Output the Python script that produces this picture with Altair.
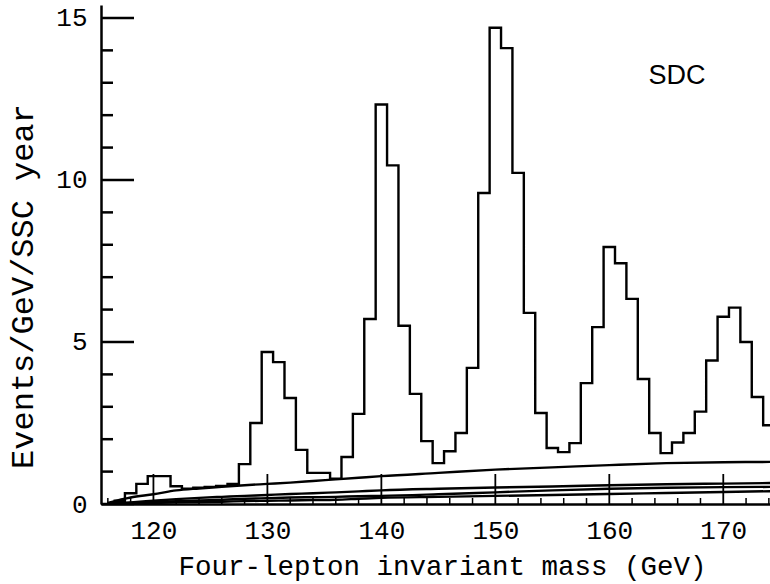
import altair as alt
import pandas as pd

# ---- data ----
bin_center = list(range(117, 175))
events = [0.10, 0.33, 0.62, 0.86, 0.86, 0.55, 0.47, 0.50, 0.53, 0.56,
          0.62, 1.23, 2.50, 4.69, 4.38, 3.27, 1.67, 0.96, 0.96, 0.78,
          1.45, 2.78, 5.71, 12.33, 10.45, 5.50, 3.40, 1.94, 1.26, 1.63,
          2.19, 4.20, 9.60, 14.70, 14.07, 10.22, 5.90, 2.81, 1.73, 1.60,
          1.88, 3.73, 5.46, 7.93, 7.43, 6.33, 3.86, 2.19, 1.57, 1.90,
          2.19, 2.85, 4.43, 5.78, 6.06, 5.00, 3.30, 2.43]

curve_mass = [116, 118, 120, 122, 124, 126, 128, 130, 132, 134, 136, 138, 140,
              145, 150, 155, 160, 165, 170, 175]
bkg_total = [0.03, 0.20, 0.30, 0.42, 0.48, 0.53, 0.58, 0.62, 0.66, 0.71, 0.76, 0.81, 0.86,
             0.96, 1.06, 1.13, 1.20, 1.26, 1.29, 1.30]
bkg_a = [0.01, 0.05, 0.10, 0.15, 0.19, 0.22, 0.25, 0.28, 0.31, 0.33, 0.36, 0.39, 0.42,
         0.47, 0.51, 0.54, 0.58, 0.61, 0.63, 0.65]
bkg_b = [0.01, 0.03, 0.06, 0.09, 0.11, 0.13, 0.16, 0.18, 0.20, 0.21, 0.22, 0.24, 0.25,
         0.30, 0.36, 0.42, 0.47, 0.50, 0.52, 0.53]
bkg_c = [0.00, 0.01, 0.03, 0.05, 0.06, 0.07, 0.09, 0.10, 0.11, 0.12, 0.13, 0.16, 0.19,
         0.22, 0.25, 0.28, 0.31, 0.34, 0.37, 0.40]

x_major = [120, 130, 140, 150, 160, 170]
x_minor = [116, 118, 122, 124, 126, 128, 132, 134, 136, 138, 142, 144, 146, 148,
           152, 154, 156, 158, 162, 164, 166, 168, 172, 174]
y_major = [0, 5, 10, 15]
y_minor = [1, 2, 3, 4, 6, 7, 8, 9, 11, 12, 13, 14]

# ---- tables ----
hist = pd.DataFrame({"edge": [c - 0.5 for c in bin_center] + [bin_center[-1] + 0.5],
                     "value": events + [events[-1]]})
curves = pd.DataFrame({
    "mass": curve_mass * 4,
    "value": bkg_total + bkg_a + bkg_b + bkg_c,
    "curve": ["total"] * len(curve_mass) + ["a"] * len(curve_mass)
             + ["b"] * len(curve_mass) + ["c"] * len(curve_mass),
})

W, H = 669, 499
FONT = "Liberation Mono"
xscale = alt.Scale(domain=[115.4, 174.1], nice=False, zero=False)
yscale = alt.Scale(domain=[0, 15.4], nice=False)

xaxis = alt.Axis(values=x_major, format="d", ticks=False, grid=False,
                 labelFont=FONT, labelFontSize=26, labelColor="black", labelPadding=13,
                 domainColor="black", domainWidth=2.5,
                 title="Four-lepton invariant mass (GeV)", titleFont=FONT,
                 titleFontSize=27.5, titleFontWeight="normal", titleColor="black",
                 titleX=341, titleY=70, titleBaseline="alphabetic", titleAlign="center")
yaxis = alt.Axis(values=y_major, format="d", ticks=False, grid=False,
                 labelFont=FONT, labelFontSize=26, labelColor="black", labelPadding=14,
                 domainColor="black", domainWidth=2.5,
                 title="Events/GeV/SSC year", titleFont=FONT, titleFontSize=32,
                 titleFontWeight="normal", titleColor="black",
                 titleX=-69, titleY=281, titleBaseline="alphabetic", titleAlign="center",
                 titleAngle=270)

hist_line = alt.Chart(hist).mark_line(interpolate="step-after", color="black",
                                      strokeWidth=2.4, clip=True).encode(
    x=alt.X("edge:Q", scale=xscale, axis=xaxis),
    y=alt.Y("value:Q", scale=yscale, axis=yaxis),
)

curve_lines = alt.Chart(curves).mark_line(interpolate="monotone", color="black",
                                          strokeWidth=2.4, clip=True).encode(
    x=alt.X("mass:Q", scale=xscale),
    y=alt.Y("value:Q", scale=yscale),
    detail="curve:N",
)

ymaj = alt.Chart(pd.DataFrame({"v": y_major})).mark_rule(color="black", strokeWidth=2.5).encode(
    y=alt.Y("v:Q", scale=yscale), x=alt.value(0), x2=alt.value(33))
ymin = alt.Chart(pd.DataFrame({"v": y_minor})).mark_rule(color="black", strokeWidth=2.5).encode(
    y=alt.Y("v:Q", scale=yscale), x=alt.value(0), x2=alt.value(12))
xmaj = alt.Chart(pd.DataFrame({"v": x_major})).mark_rule(color="black", strokeWidth=1.8).encode(
    x=alt.X("v:Q", scale=xscale), y=alt.value(H), y2=alt.value(H - 30))
xmin = alt.Chart(pd.DataFrame({"v": x_minor})).mark_rule(color="black", strokeWidth=1.5).encode(
    x=alt.X("v:Q", scale=xscale), y=alt.value(H), y2=alt.value(H - 6))

sdc = alt.Chart(pd.DataFrame({"t": ["SDC"]})).mark_text(
    font="Liberation Sans", fontSize=27, color="black", align="center", baseline="middle"
).encode(text="t:N", x=alt.value(576), y=alt.value(71))

chart = alt.layer(hist_line, curve_lines, ymaj, ymin, xmaj, xmin, sdc).properties(
    width=W, height=H,
    padding={"left": 101, "top": 5, "right": 0, "bottom": 80},
    autosize=alt.AutoSizeParams(type="none"),
    background="white",
).configure_view(stroke=None)

chart.save("out.html", embed_options={"renderer": "svg", "actions": False})
